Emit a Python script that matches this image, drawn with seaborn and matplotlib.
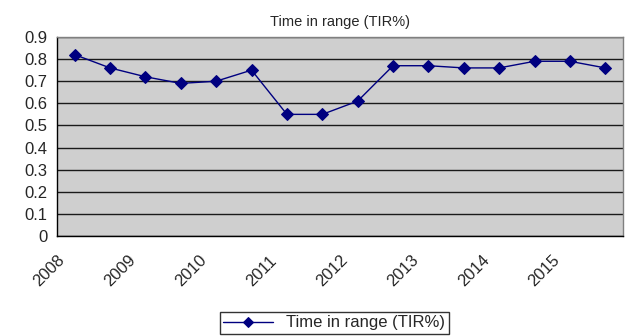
import matplotlib
matplotlib.use("Agg")
import matplotlib.pyplot as plt
import seaborn as sns
import pandas as pd
import numpy as np

# Dades del grafic
years = ["2008", "2009", "2010", "2011", "2012", "2013", "2014", "2015"]
tir_values = [0.82, 0.76, 0.72, 0.69, 0.70, 0.75, 0.55, 0.55,
              0.61, 0.77, 0.77, 0.76, 0.76, 0.79, 0.79, 0.76]
series_name = "Time in range (TIR%)"

df = pd.DataFrame({"pos": np.arange(len(tir_values)), "tir": tir_values})

sns.set_style("white")
plt.rcParams["font.family"] = ["Liberation Sans", "DejaVu Sans"]

fig = plt.figure(figsize=(6.27, 3.36), dpi=100)
ax = fig.add_axes([0.0909, 0.2976, 0.9027, 0.5924])
ax.set_facecolor("#cfcfcf")

sns.lineplot(data=df, x="pos", y="tir", ax=ax, color="#000080",
             marker="D", markersize=6, markeredgecolor="#000080",
             linewidth=1, label=series_name, zorder=3)

# Eixos
ax.set_xlim(-0.5, len(tir_values) - 0.5)
ax.set_ylim(0, 0.9)
ax.set_yticks(np.arange(0, 0.91, 0.1))
ax.set_yticklabels(["0"] + [f"{v:.1f}" for v in np.arange(0.1, 0.91, 0.1)])
ax.set_xticks(np.arange(-0.5, len(tir_values), 1))
labels = []
for i in range(len(tir_values) + 1):
    labels.append(years[i // 2] if i % 2 == 0 and i // 2 < len(years) else "")
ax.set_xticklabels(labels, rotation=45, ha="right", rotation_mode="anchor")
ax.tick_params(axis="both", labelsize=12, length=4, width=1, color="black",
               direction="out", pad=3)
ax.tick_params(axis="x", pad=8)
ax.set_xlabel("")
ax.set_ylabel("")

# Graella
ax.yaxis.grid(True, color="#1a1a1a", linewidth=1)
ax.set_axisbelow(True)
for side in ["top", "right"]:
    ax.spines[side].set_color("#808080")
for side in ["left", "bottom"]:
    ax.spines[side].set_color("black")
for sp in ax.spines.values():
    sp.set_linewidth(1)

ax.set_title(series_name, fontsize=10.5, pad=8)

leg = ax.legend(loc="upper center", bbox_to_anchor=(0.49, -0.382), fontsize=12,
                frameon=True, fancybox=False, edgecolor="black",
                handlelength=3, borderpad=0.2, borderaxespad=0,
                markerscale=0.8)
leg.get_frame().set_linewidth(1)

fig.savefig("out.png", dpi=100)
